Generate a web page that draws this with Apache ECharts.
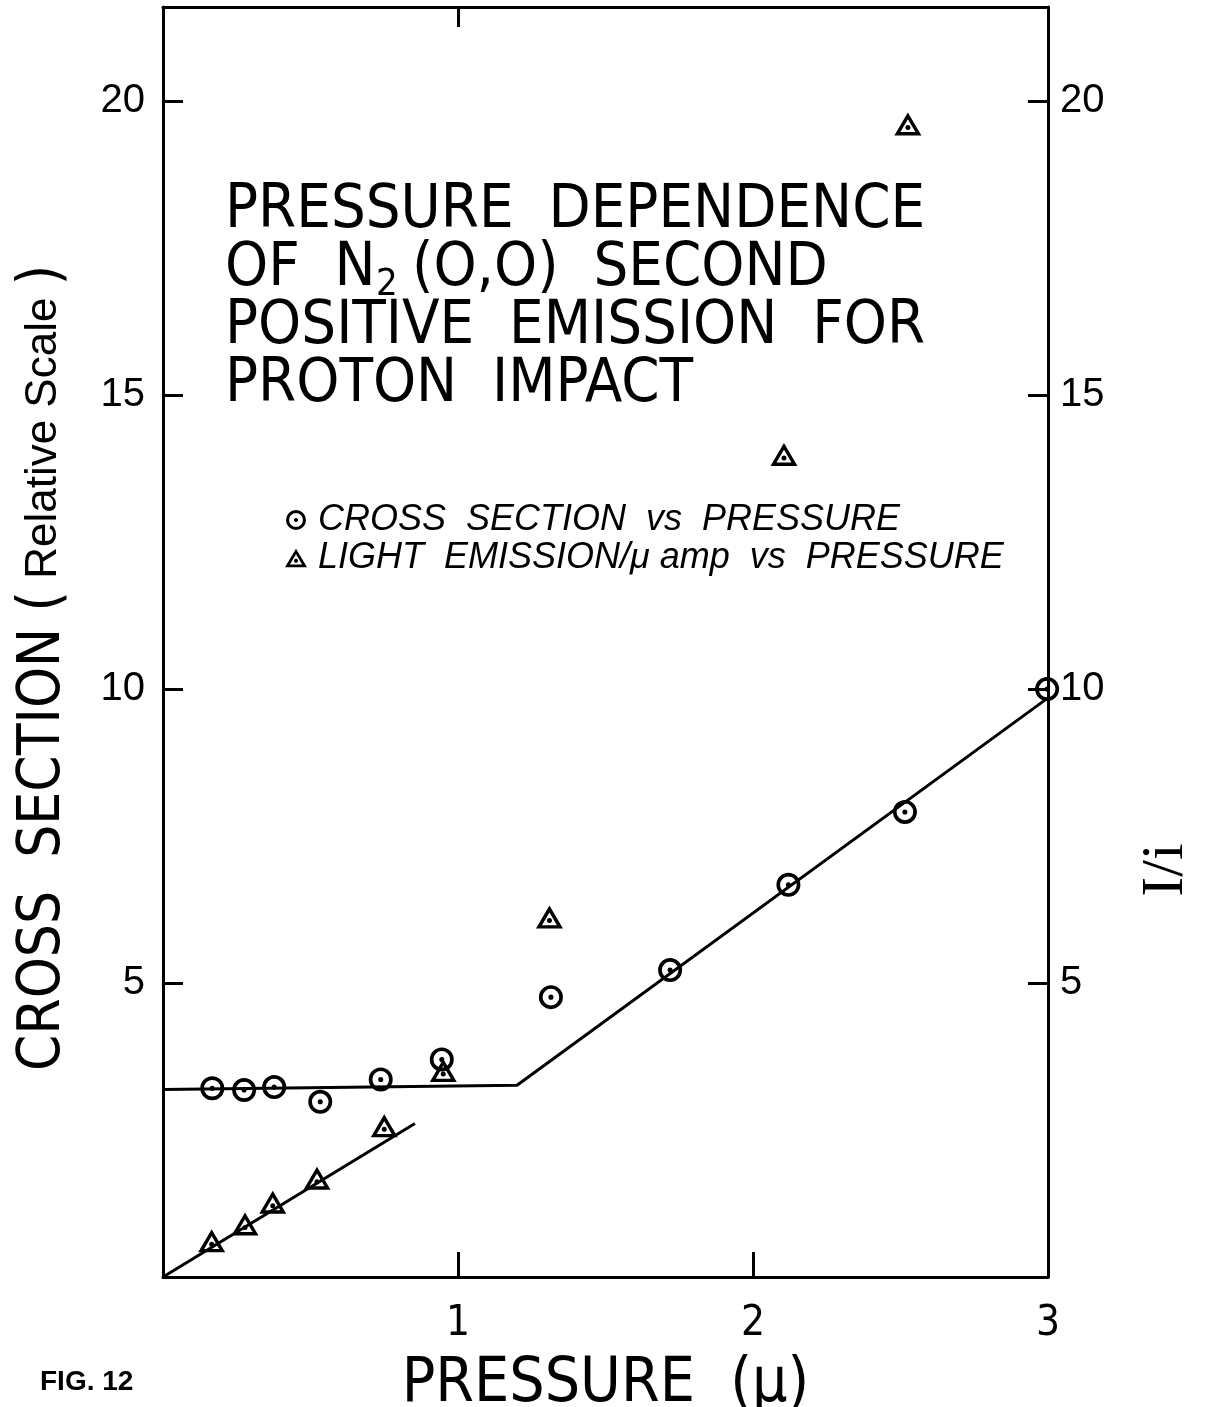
<!DOCTYPE html>
<html>
<head>
<meta charset="utf-8">
<style>
  html, body { margin: 0; padding: 0; background: #ffffff; }
  #chart { width: 1211px; height: 1407px; }
</style>
<script src="https://cdn.jsdelivr.net/npm/echarts@6/dist/echarts.min.js"></script>
</head>
<body>
<div id="chart"></div>
<script>
// ---- data ----
const crossPressure = [0.167, 0.275, 0.377, 0.533, 0.738, 0.945, 1.315, 1.719, 2.120, 2.515, 2.997];
const crossSection  = [3.21, 3.18, 3.23, 2.98, 3.36, 3.70, 4.76, 5.22, 6.67, 7.91, 10.0];

const lightPressure   = [0.165, 0.278, 0.372, 0.522, 0.750, 0.950, 1.310, 2.105, 2.525];
const lightPerCurrent = [0.565, 0.85, 1.22, 1.63, 2.52, 3.46, 6.07, 13.94, 19.56];

const crossFitX = [0, 1.2, 3];
const crossFitY = [3.19, 3.26, 9.85];
const lightFitX = [0, 0.854];
const lightFitY = [0, 2.61];

const xTickLabels = [1, 2, 3];
const yTickLabels = [5, 10, 15, 20];

const crossName = 'CROSS  SECTION  vs  PRESSURE';
const lightName = 'LIGHT  EMISSION/\u03bc amp  vs  PRESSURE';

// ---- helpers ----
const zip = (a, b) => a.map((v, i) => [v, b[i]]);
const ringDot = 'path://M0 -11.8A11.8 11.8 0 1 1 0 11.8A11.8 11.8 0 1 1 0 -11.8Z' +
  'M0 -8.2A8.2 8.2 0 1 0 0 8.2A8.2 8.2 0 1 0 0 -8.2Z' +
  'M0 -2.5A2.5 2.5 0 1 1 0 2.5A2.5 2.5 0 1 1 0 -2.5Z';
const triDot = 'path://M0 -13L13.5 10L-13.5 10Z' +
  'M0 -6.2L-7.5 6.6L7.5 6.6Z' +
  'M0 -0.5A2.5 2.5 0 1 1 0 4.5A2.5 2.5 0 1 1 0 -0.5Z';

const NARROW = '"Liberation Sans Narrow", "DejaVu Sans Condensed", "Liberation Sans", sans-serif';
const SANS = '"Liberation Sans", Arial, sans-serif';

const chart = echarts.init(document.getElementById('chart'), null, { renderer: 'canvas' });

const axisLine = { show: true, onZero: false, lineStyle: { color: '#000', width: 3 } };

const option = {
  backgroundColor: '#ffffff',
  animation: false,
  grid: { left: 163, right: 163, top: 7, bottom: 130, containLabel: false, outerBoundsMode: 'none' },
  xAxis: [
    {
      type: 'value', position: 'bottom', min: 0, max: 3, interval: 1,
      axisLine: axisLine,
      axisTick: { show: true, inside: true, length: 25, lineStyle: { color: '#000', width: 3 } },
      splitLine: { show: false },
      axisLabel: {
        margin: 26, color: '#000', fontSize: 42, fontFamily: NARROW,
        formatter: v => xTickLabels.includes(v) ? String(v) : ''
      },
      name: 'PRESSURE  (\u03bc)', nameLocation: 'middle', nameGap: 77,
      nameTextStyle: { color: '#000', fontSize: 62, fontFamily: NARROW }
    },
    {
      type: 'value', position: 'top', min: 0, max: 3, interval: 1,
      axisLine: axisLine,
      axisTick: { show: true, inside: true, length: 20, customValues: [1], lineStyle: { color: '#000', width: 3 } },
      splitLine: { show: false },
      axisLabel: { show: false }
    }
  ],
  yAxis: [
    {
      type: 'value', position: 'left', min: 0, max: 21.6, interval: 5,
      axisLine: axisLine,
      axisTick: { show: true, inside: true, length: 20, lineStyle: { color: '#000', width: 3 } },
      splitLine: { show: false },
      axisLabel: {
        margin: 18, color: '#000', fontSize: 40, fontFamily: SANS,
        formatter: v => yTickLabels.includes(v) ? String(v) : ''
      }
    },
    {
      type: 'value', position: 'right', min: 0, max: 21.6, interval: 5,
      axisLine: axisLine,
      axisTick: { show: true, inside: true, length: 20, lineStyle: { color: '#000', width: 3 } },
      splitLine: { show: false },
      axisLabel: {
        margin: 12, color: '#000', fontSize: 40, fontFamily: SANS,
        formatter: v => yTickLabels.includes(v) ? String(v) : ''
      }
    }
  ],
  legend: {
    orient: 'vertical', left: 280, top: 497,
    itemWidth: 22, itemHeight: 20, itemGap: 2,
    data: [crossName, lightName],
    textStyle: { color: '#000', fontSize: 36, fontStyle: 'italic', fontFamily: SANS, padding: [0, 0, 0, 6] }
  },
  series: [
    {
      name: 'fit-cross', type: 'line', data: zip(crossFitX, crossFitY), showSymbol: false,
      symbol: 'none', lineStyle: { color: '#000', width: 3 }, silent: true, z: 2
    },
    {
      name: 'fit-light', type: 'line', data: zip(lightFitX, lightFitY), showSymbol: false,
      symbol: 'none', lineStyle: { color: '#000', width: 3 }, silent: true, z: 2
    },
    {
      name: crossName, type: 'scatter', data: zip(crossPressure, crossSection),
      symbol: ringDot, symbolSize: 24, itemStyle: { color: '#000', opacity: 1 }, z: 3
    },
    {
      name: lightName, type: 'scatter', data: zip(lightPressure, lightPerCurrent),
      symbol: triDot, symbolSize: [27, 23], symbolOffset: [0, -3], itemStyle: { color: '#000', opacity: 1 }, z: 3
    }
  ],
  graphic: [
    { type: 'text', x: 225, y: 211, style: { text: 'PRESSURE  DEPENDENCE', font: '61px ' + NARROW, fill: '#000', textVerticalAlign: 'middle', verticalAlign: 'middle' } },
    { type: 'text', x: 225, y: 269, style: { text: 'OF  N', font: '61px ' + NARROW, fill: '#000', textVerticalAlign: 'middle', verticalAlign: 'middle' } },
    { type: 'text', x: 376, y: 285, style: { text: '2', font: '38px ' + NARROW, fill: '#000', textVerticalAlign: 'middle', verticalAlign: 'middle' } },
    { type: 'text', x: 412, y: 269, style: { text: '(O,O)  SECOND', font: '61px ' + NARROW, fill: '#000', textVerticalAlign: 'middle', verticalAlign: 'middle' } },
    { type: 'text', x: 225, y: 327, style: { text: 'POSITIVE  EMISSION  FOR', font: '61px ' + NARROW, fill: '#000', textVerticalAlign: 'middle', verticalAlign: 'middle' } },
    { type: 'text', x: 225, y: 385, style: { text: 'PROTON  IMPACT', font: '61px ' + NARROW, fill: '#000', textVerticalAlign: 'middle', verticalAlign: 'middle' } },
    {
      type: 'text', x: 44, y: 668, rotation: Math.PI / 2,
      style: {
        text: '{a|CROSS  SECTION }{a|(}{b| Relative Scale }{a|)}',
        rich: {
          a: { fontSize: 58, fontFamily: NARROW, fill: '#000', color: '#000' },
          b: { fontSize: 44, fontFamily: SANS, fill: '#000', color: '#000' }
        },
        fill: '#000', textAlign: 'center', align: 'center', textVerticalAlign: 'middle', verticalAlign: 'middle'
      }
    },
    {
      type: 'text', x: 1166, y: 870, rotation: Math.PI / 2,
      style: { text: 'I/i', font: '60px "Liberation Serif", serif', fill: '#000', textAlign: 'center', align: 'center', textVerticalAlign: 'middle', verticalAlign: 'middle' }
    },
    { type: 'text', x: 40, y: 1382, style: { text: 'FIG. 12', font: 'bold 28px ' + SANS, fill: '#000', textVerticalAlign: 'middle', verticalAlign: 'middle' } }
  ]
};

chart.setOption(option);
</script>
</body>
</html>
